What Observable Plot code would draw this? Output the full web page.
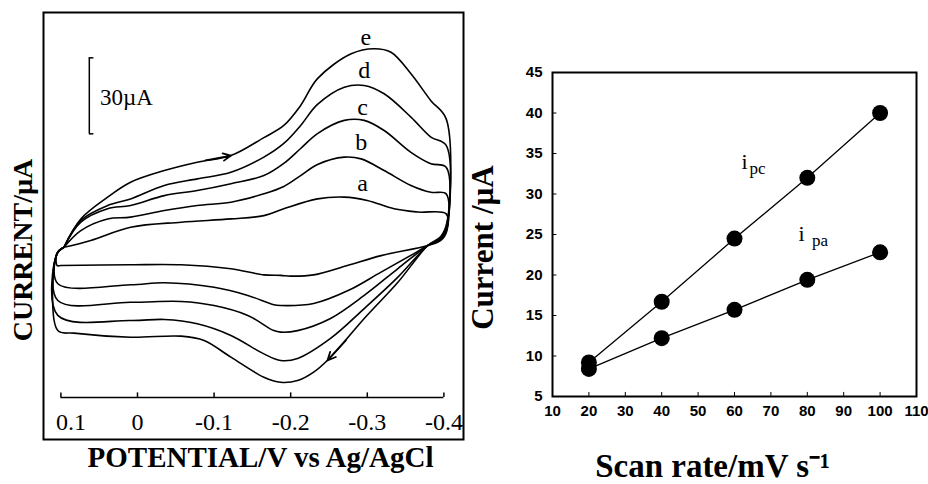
<!DOCTYPE html>
<html><head><meta charset="utf-8">
<script src="https://cdn.jsdelivr.net/npm/d3@7"></script>
<script src="https://cdn.jsdelivr.net/npm/@observablehq/plot@0.6"></script>
<style>
body{margin:0;background:#fff;}
#wrap{position:relative;width:928px;height:484px;overflow:hidden;background:#fff;}
#left{position:absolute;left:0;top:0;}
#right{position:absolute;left:466px;top:0;}
</style></head><body>
<div id="wrap"><div id="left"></div><div id="right"></div></div>
<script>
// ---------- Left panel: cyclic voltammograms (potential V, current µA, arbitrary zero) ----------
const curveNames = ["a", "b", "c", "d", "e"];
const cvA = [[0.096,-0.7],[0.061,2.0],[0.009,7.2],[-0.057,9.2],[-0.122,10.5],[-0.165,11.8],[-0.191,14.5],[-0.235,18.4],[-0.270,19.1],[-0.300,17.8],[-0.335,14.5],[-0.366,13.2],[-0.403,12.5],[-0.404,5.9],[-0.396,2.0],[-0.379,0],[-0.318,-4.0],[-0.274,-7.9],[-0.230,-11.6],[-0.200,-12.1],[-0.187,-11.8],[-0.165,-11.6],[-0.122,-9.2],[-0.057,-7.6],[0.009,-7.6],[0.100,-7.9],[0.105,-7.9],[0.105,-3.2],[0.096,-0.7]];
const cvB = [[0.096,-0.7],[0.074,5.9],[0.039,10.5],[0.009,11.2],[-0.035,13.8],[-0.078,15.8],[-0.122,17.1],[-0.165,20.4],[-0.191,23.3],[-0.213,27.6],[-0.235,32.0],[-0.270,34.9],[-0.292,34.2],[-0.322,29.6],[-0.357,23.7],[-0.383,21.0],[-0.403,20.4],[-0.404,6.7],[-0.396,2.4],[-0.379,0],[-0.361,-3.2],[-0.318,-10.5],[-0.275,-17.8],[-0.230,-22.9],[-0.187,-23.7],[-0.178,-23.4],[-0.144,-19.7],[-0.100,-16.5],[-0.035,-14.7],[0.009,-15.5],[0.104,-15.1],[0.105,-3.2],[0.096,-0.7]];
const cvC = [[0.096,-0.7],[0.074,9.2],[0.039,14.5],[0.009,15.8],[-0.035,19.7],[-0.078,21.7],[-0.122,24.4],[-0.165,27.6],[-0.191,32.4],[-0.213,38.3],[-0.235,44.2],[-0.270,49.4],[-0.296,49.4],[-0.322,45.4],[-0.357,36.8],[-0.383,32.3],[-0.403,30.9],[-0.404,7.5],[-0.396,2.8],[-0.379,0],[-0.340,-9.1],[-0.296,-19.7],[-0.252,-28.8],[-0.209,-33.6],[-0.187,-34.2],[-0.178,-33.6],[-0.144,-27.6],[-0.100,-23.7],[-0.057,-22.1],[0.009,-22.4],[0.104,-21.7],[0.105,-3.2],[0.096,-0.7]];
const cvD = [[0.096,-0.7],[0.074,9.9],[0.039,15.8],[0.009,18.4],[-0.035,23.7],[-0.078,26.3],[-0.122,28.9],[-0.165,34.9],[-0.191,40.3],[-0.213,47.4],[-0.235,55.7],[-0.270,62.5],[-0.296,63.2],[-0.322,59.9],[-0.357,50.7],[-0.383,42.8],[-0.403,39.5],[-0.404,8.3],[-0.396,3.2],[-0.379,0],[-0.340,-12.5],[-0.296,-24.9],[-0.252,-36.7],[-0.209,-44.6],[-0.187,-45.4],[-0.165,-42.8],[-0.122,-35.5],[-0.078,-30.9],[-0.035,-29.2],[0.009,-29.6],[0.104,-27.6],[0.105,-3.2],[0.096,-0.7]];
const cvE = [[0.096,-0.7],[0.074,10.5],[0.039,19.1],[0.009,25.0],[-0.035,29.6],[-0.078,32.9],[-0.122,35.5],[-0.165,42.6],[-0.191,47.4],[-0.213,55.3],[-0.235,65.9],[-0.279,75.7],[-0.309,77.7],[-0.331,76.3],[-0.357,67.8],[-0.383,57.2],[-0.403,50.0],[-0.404,9.1],[-0.396,3.6],[-0.379,0],[-0.340,-14.5],[-0.296,-28.8],[-0.252,-44.1],[-0.230,-50.0],[-0.209,-53.3],[-0.187,-54.0],[-0.165,-52.0],[-0.122,-44.1],[-0.087,-37.5],[-0.057,-35.8],[0.009,-36.2],[0.083,-34.6],[0.104,-33.6],[0.105,-3.2],[0.096,-0.7]];
const cvCurves = [cvA, cvB, cvC, cvD, cvE];
const curveLabelE = [-0.294, -0.292, -0.294, -0.296, -0.298];
const curveLabelI = [24.4, 40.8, 54.6, 69.1, 82.2];
const potentialTicks = [0.1, 0, -0.1, -0.2, -0.3, -0.4];
const potentialTickLabels = ["0.1", "0", "-0.1", "-0.2", "-0.3", "-0.4"];
const axisCurrent = -60;        // level of the potential axis line
const tickLabelCurrent = -69.9; // level of the potential tick labels
const scaleBarE = 0.0629, scaleBarLow = 44.1, scaleBarHigh = 74.1; // 30 µA bar
const scanArrows = [
  {x1: -0.089, y1: 33.6, x2: -0.122, y2: 35.5},
  {x1: -0.272, y1: -37.5, x2: -0.248, y2: -45.4}
];

// ---------- Right panel: peak currents vs scan rate ----------
const scanRates = [20, 40, 60, 80, 100];
const ipc = [9.2, 16.7, 24.5, 32.0, 40.0];
const ipa = [8.4, 12.2, 15.7, 19.4, 22.8];
const rateTicks = [10, 20, 30, 40, 50, 60, 70, 80, 90, 100, 110];
const currentTicks = [5, 10, 15, 20, 25, 30, 35, 40, 45];

const serif = "'Liberation Serif', 'Times New Roman', serif";
const sans = "'Liberation Sans', Arial, sans-serif";

const cvRows = curveNames.flatMap((name, k) => cvCurves[k].map(([E, I]) => ({name, E, I})));
const labelRows = curveNames.map((name, k) => ({name, E: curveLabelE[k], I: curveLabelI[k]}));

const left = Plot.plot({
  width: 466, height: 484,
  marginLeft: 43, marginRight: 3, marginTop: 12, marginBottom: 45,
  x: {domain: [0.1227, -0.4256], axis: null},
  y: {domain: [-76.6, 92.0], axis: null},
  style: {fontFamily: serif, background: "white", overflow: "visible"},
  marks: [
    Plot.frame({stroke: "black", strokeWidth: 2}),
    Plot.line(cvRows, {x: "E", y: "I", z: "name", curve: "catmull-rom", stroke: "black", strokeWidth: 1.6}),
    Plot.arrow(scanArrows, {x1: "x1", y1: "y1", x2: "x2", y2: "y2", stroke: "black", strokeWidth: 1.8, headLength: 14, headAngle: 50}),
    Plot.text(labelRows, {x: "E", y: "I", text: "name", fontSize: 24, fontFamily: serif, fill: "black"}),
    Plot.ruleX([scaleBarE], {y1: scaleBarLow, y2: scaleBarHigh, stroke: "black", strokeWidth: 1.5}),
    Plot.ruleY([scaleBarLow, scaleBarHigh], {x1: scaleBarE, x2: scaleBarE - 0.006, stroke: "black", strokeWidth: 1.5}),
    Plot.text(["30µA"], {x: 0.0488, y: 58.5, textAnchor: "start", fontSize: 23, fontFamily: serif, fill: "black"}),
    Plot.ruleY([axisCurrent], {x1: potentialTicks[0], x2: potentialTicks[potentialTicks.length - 1], stroke: "black", strokeWidth: 1.5}),
    Plot.ruleX(potentialTicks, {y1: axisCurrent, y2: axisCurrent + 1.8, stroke: "black", strokeWidth: 1.5}),
    Plot.text(potentialTicks.slice(1), {x: d => d, y: tickLabelCurrent, text: (d, i) => potentialTickLabels[i + 1], fontSize: 24, fontFamily: serif, fill: "black"}),
    Plot.text(potentialTicks.slice(0, 1), {x: d => d, y: tickLabelCurrent, text: (d, i) => potentialTickLabels[i], dx: 10, fontSize: 24, fontFamily: serif, fill: "black"}),
    Plot.text(["CURRENT/µA"], {frameAnchor: "left", textAnchor: "middle", dx: -20, dy: 24, rotate: -90, fontSize: 28, fontWeight: "bold", fontFamily: serif, fill: "black"}),
    Plot.text(["POTENTIAL/V vs Ag/AgCl"], {frameAnchor: "bottom", textAnchor: "middle", dx: 7, dy: 18, lineAnchor: "middle", fontSize: 29, fontWeight: "bold", fontFamily: serif, fill: "black"})
  ]
});
document.getElementById("left").appendChild(left);

const rateRows = [
  ...scanRates.map((r, i) => ({series: "ipc", rate: r, current: ipc[i]})),
  ...scanRates.map((r, i) => ({series: "ipa", rate: r, current: ipa[i]}))
];

const right = Plot.plot({
  width: 462, height: 484,
  marginLeft: 86, marginRight: 12, marginTop: 72, marginBottom: 88,
  x: {domain: [10, 110]},
  y: {domain: [5, 45]},
  style: {fontFamily: sans, background: "white", overflow: "visible"},
  marks: [
    Plot.axisX({ticks: rateTicks, tickSize: 0, tickPadding: 9, fontSize: 15, fontWeight: "bold", fontFamily: sans, label: null}),
    Plot.axisY({ticks: currentTicks, tickSize: 0, tickPadding: 10, fontSize: 15, fontWeight: "bold", fontFamily: sans, label: null}),
    Plot.ruleY(currentTicks, {x1: 10, x2: 11.2, stroke: "black", strokeWidth: 1}),
    Plot.ruleX(rateTicks, {y1: 5, y2: 5.5, stroke: "black", strokeWidth: 1}),
    Plot.frame({stroke: "black", strokeWidth: 2}),
    Plot.line(rateRows, {x: "rate", y: "current", z: "series", stroke: "black", strokeWidth: 1.3}),
    Plot.dot(rateRows, {x: "rate", y: "current", r: 8, fill: "black", stroke: "none"}),
    Plot.text(["i"], {x: 61.9, y: 34.0, textAnchor: "start", fontSize: 22, fontFamily: serif, fill: "black"}),
    Plot.text(["pc"], {x: 64.1, y: 33.2, textAnchor: "start", fontSize: 17, fontFamily: serif, fill: "black"}),
    Plot.text(["i"], {x: 77.6, y: 25.1, textAnchor: "start", fontSize: 22, fontFamily: serif, fill: "black"}),
    Plot.text(["pa"], {x: 81.3, y: 24.2, textAnchor: "start", fontSize: 17, fontFamily: serif, fill: "black"}),
    Plot.text(["Current /µA"], {frameAnchor: "left", textAnchor: "middle", dx: -69, dy: 13, rotate: -90, fontSize: 31, fontWeight: "bold", fontFamily: serif, fill: "black"}),
    Plot.text(["Scan rate/mV s⁻¹"], {frameAnchor: "bottom", textAnchor: "middle", dx: -22, dy: 70, lineAnchor: "middle", fontSize: 33, fontWeight: "bold", fontFamily: serif, fill: "black"})
  ]
});
document.getElementById("right").appendChild(right);
</script>
</body></html>
